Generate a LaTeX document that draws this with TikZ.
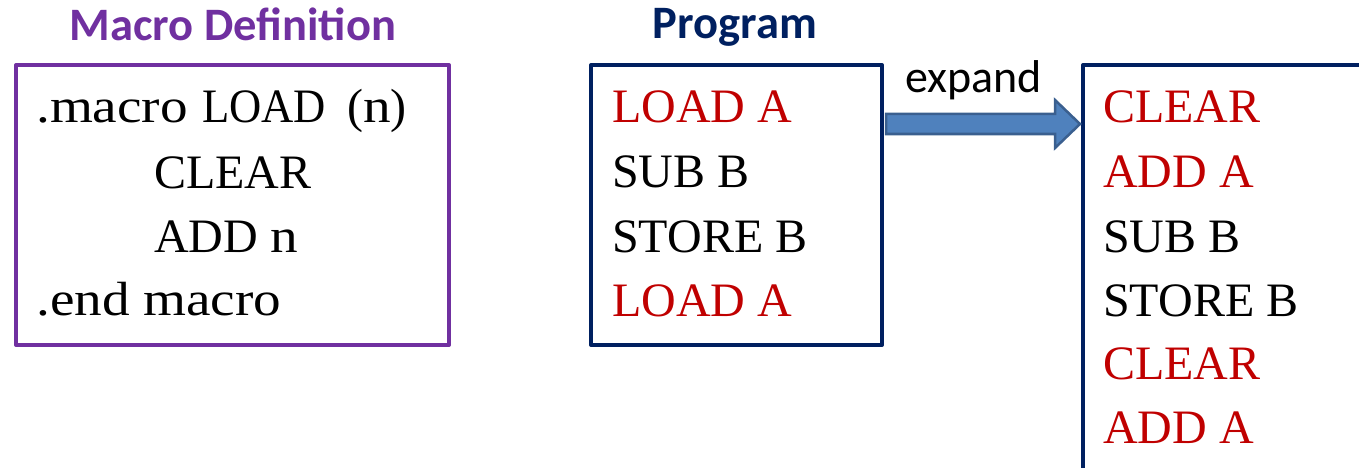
\documentclass[tikz,border=0pt]{standalone}
\usepackage{fontspec}
\setmainfont{Liberation Serif}
\newfontfamily\widefont[FakeStretch=1.15]{Liberation Serif}
\newfontfamily\calibri{Carlito}
\definecolor{macpurple}{HTML}{7030A0}
\definecolor{navy}{HTML}{002060}
\definecolor{codered}{HTML}{C00000}
\definecolor{arrowfill}{HTML}{4F81BD}
\definecolor{arrowline}{HTML}{3A5F8F}
\tikzset{
  boxframe/.style={draw=#1, line width=4pt, line join=round, inner sep=0pt, anchor=north west},
  title/.style={font=\calibri\bfseries\fontsize{46.5}{52}\selectfont, anchor=base, inner sep=0pt},
  code/.style={font=\fontsize{48}{56}\selectfont, anchor=base west, inner sep=0pt},
  red/.style={text=codered},
  lbl/.style={font=\calibri\fontsize{46}{52}\selectfont, anchor=base west, inner sep=0pt}
}
\begin{document}
\begin{tikzpicture}[x=1pt,y=-1pt]
\useasboundingbox (0,0) rectangle (1359,468);
\begin{scope}
\clip (0,0) rectangle (1359,468);
% boxes
\node[boxframe=macpurple, minimum width=433pt, minimum height=280pt] (macbox) at (14,63) {};
\node[boxframe=navy, minimum width=291pt, minimum height=280pt] (progbox) at (589,63) {};
\node[boxframe=navy, minimum width=330pt, minimum height=470pt] (outbox) at (1081,63) {};
\end{scope}
% titles
\node[title, text=macpurple] (mactitle) at (233,41) {Macro Definition};
\node[title, text=navy] (progtitle) at (735,39) {Program};
% macro definition text
\node[code] (m1) at (36,123) {{\widefont .macro}};
\node[code] (m1a) at (202,123) {\scalebox{0.93}[1]{LOAD}};
\node[code] (m1b) at (347,123) {({\widefont n})};
\node[code] (m2) at (154,188) {CLEAR};
\node[code] (m3) at (154,252) {ADD {\widefont n}};
\node[code] (m4) at (36,315) {{\widefont .end macro}};
% program text
\node[code, red] (p1) at (612,123) {LOAD A};
\node[code] (p2) at (612,187) {SUB B};
\node[code] (p3) at (612,252) {STORE B};
\node[code, red] (p4) at (612,316) {LOAD A};
% expanded text
\node[code, red] (o1) at (1103,123) {CLEAR};
\node[code, red] (o2) at (1103,187) {ADD A};
\node[code] (o3) at (1103,252) {SUB B};
\node[code] (o4) at (1103,316) {STORE B};
\node[code, red] (o5) at (1103,379) {CLEAR};
\node[code, red] (o6) at (1103,443) {ADD A};
% arrow
\coordinate (as) at ([xshift=2pt]progbox.east |- 0,124);
\coordinate (ae) at ([xshift=-1pt]outbox.west |- 0,124);
\draw[fill=arrowfill, draw=arrowline, line width=2.5pt, line join=miter]
  ([yshift=-10pt]as) -- ([xshift=-25pt,yshift=-10pt]ae) -- ([xshift=-25pt,yshift=-24pt]ae)
  -- (ae) -- ([xshift=-25pt,yshift=24pt]ae) -- ([xshift=-25pt,yshift=10pt]ae)
  -- ([yshift=10pt]as) -- cycle;
\node[lbl] (expand) at (905,93) {expand};
\end{tikzpicture}
\end{document}
